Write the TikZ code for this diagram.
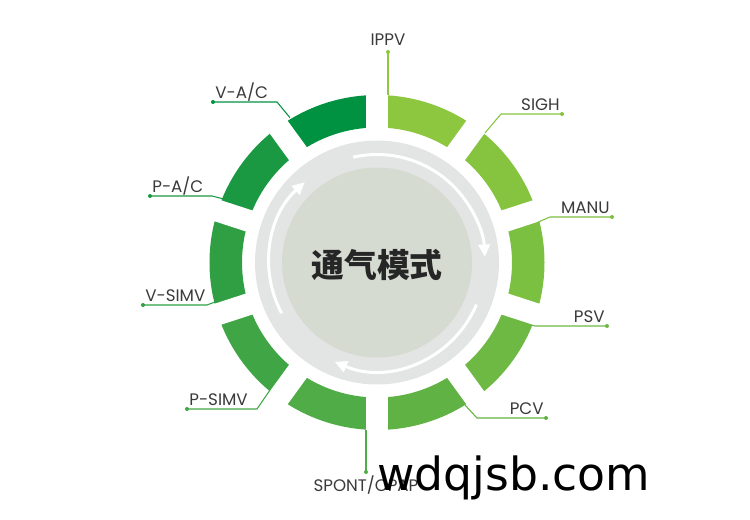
\documentclass[tikz,border=0pt]{standalone}
\usepackage{fontspec}
\usepackage{tikz}
\usetikzlibrary{arrows.meta}
\newfontfamily\labelfont{Poppins}
\newfontfamily\cjk{Noto Sans CJK SC}
\newfontfamily\markfont{DejaVu Sans}
\definecolor{c0}{HTML}{8DC63F}
\definecolor{c1}{HTML}{86C440}
\definecolor{c2}{HTML}{7CC042}
\definecolor{c3}{HTML}{6DB943}
\definecolor{c4}{HTML}{61B245}
\definecolor{c5}{HTML}{50AC46}
\definecolor{c6}{HTML}{40A645}
\definecolor{c7}{HTML}{309F44}
\definecolor{c8}{HTML}{1A9842}
\definecolor{c9}{HTML}{009240}
\definecolor{ringgray}{HTML}{E3E5E5}
\definecolor{coregray}{HTML}{D5DBD1}
\definecolor{txtgray}{HTML}{3A3A3A}
\definecolor{txtdark}{HTML}{262626}
\tikzset{
  lbl/.style={font=\labelfont\fontsize{9.5}{10}\selectfont, text=txtgray, inner sep=0pt},
  lead/.style={line width=0.6pt},
  flow/.style={white, line width=1.7pt, -{Triangle[length=7pt,width=6.5pt]}},
}

\begin{document}
\begin{tikzpicture}[x=0.02cm,y=0.02cm]
    \useasboundingbox (-377,-257.5) rectangle (373,262.5);
    \foreach \i in {0,...,9} {
        \pgfmathsetmacro\a{90-36*\i}
        \pgfmathsetmacro\b{54-36*\i}
        \fill[c\i] (\a:167.5) arc (\a:\b:167.5) -- (\b:135) arc (\b:\a:135) -- cycle;
    }
    \foreach \g in {0,...,9}
        \draw[white, line width=0.44cm] ({90-36*\g}:128) -- ({90-36*\g}:175);
    \fill[ringgray] (0,0) circle (122);
    \fill[coregray] (0,0) circle (95);
    \draw[flow] (102.7:108) arc (102.7:3:108);
    \draw[flow] (-23:108) arc (-23:-113:108);
    \draw[flow] (208:108) arc (208:132:108);
    \node[font=\cjk\bfseries\fontsize{18.7}{20}\selectfont, text=txtdark] (mode) at (0,-2.5) {通气模式};

    \coordinate (ippvend) at (11,167.5);   \coordinate (ippvdot) at (11,210.5);
    \coordinate (sighend) at (50.2:168.6); \coordinate (sighbend) at (124,148.5);  \coordinate (sighdot) at (185,148.5);
    \coordinate (manuend) at (14.1:166);   \coordinate (manubend) at (173,45.5);   \coordinate (manudot) at (235,45.5);
    \coordinate (psvend) at (-22:167.5);   \coordinate (psvbend) at (158,-63.5);   \coordinate (psvdot) at (230,-63.5);
    \coordinate (pcvend) at (-58.3:167.8); \coordinate (pcvbend) at (100,-155.5);  \coordinate (pcvdot) at (169,-155.5);
    \coordinate (spontend) at (-11,-167.5); \coordinate (spontdot) at (-11,-209.5);
    \coordinate (psimvend) at (230:166.4); \coordinate (psimvbend) at (-120,-146.5); \coordinate (psimvdot) at (-190,-146.5);
    \coordinate (vsimvend) at (193.7:166.7); \coordinate (vsimvbend) at (-170,-42.5); \coordinate (vsimvdot) at (-234,-42.5);
    \coordinate (pacend) at (157.4:164);   \coordinate (pacbend) at (-165,66.5);   \coordinate (pacdot) at (-227,66.5);
    \coordinate (vacend) at (121:169);     \coordinate (vacbend) at (-100,160.5);  \coordinate (vacdot) at (-164,160.5);

    \draw[lead, c0] (ippvend) -- (ippvdot);
    \draw[lead, c1] (sighend) -- (sighbend) -- (sighdot);
    \draw[lead, c2] (manuend) -- (manubend) -- (manudot);
    \draw[lead, c3] (psvend) -- (psvbend) -- (psvdot);
    \draw[lead, c4] (pcvend) -- (pcvbend) -- (pcvdot);
    \draw[lead, c5] (spontend) -- (spontdot);
    \draw[lead, c6] (psimvend) -- (psimvbend) -- (psimvdot);
    \draw[lead, c7] (vsimvend) -- (vsimvbend) -- (vsimvdot);
    \draw[lead, c8] (pacend) -- (pacbend) -- (pacdot);
    \draw[lead, c9] (vacend) -- (vacbend) -- (vacdot);
    \foreach \d/\c in {ippvdot/c0, sighdot/c1, manudot/c2, psvdot/c3, pcvdot/c4,
                       spontdot/c5, psimvdot/c6, vsimvdot/c7, pacdot/c8, vacdot/c9}
        \fill[\c] (\d) circle (2);

    \node[lbl, anchor=base] (ippv) at (11,216.5) {IPPV};
    \node[lbl, anchor=base east] (sigh) at (183,151.5) {SIGH};
    \node[lbl, anchor=base east] (manu) at (233,48.5) {MANU};
    \node[lbl, anchor=base east] (psv) at (228,-60.5) {PSV};
    \node[lbl, anchor=base east] (pcv) at (167,-152.5) {PCV};
    \node[lbl, anchor=base] (spont) at (-11,-228.5) {SPONT/CPAP};
    \node[lbl, anchor=base west] (psimv) at (-188,-143.5) {P-SIMV};
    \node[lbl, anchor=base west] (vsimv) at (-232,-39.5) {V-SIMV};
    \node[lbl, anchor=base west] (pac) at (-225,69.5) {P-A/C};
    \node[lbl, anchor=base west] (vac) at (-162,163.5) {V-A/C};

    \node[font=\markfont\fontsize{26}{28}\selectfont, anchor=base west, inner sep=0pt] (site) at (0,-227.5) {wdqjsb.com};
\end{tikzpicture}
\end{document}
